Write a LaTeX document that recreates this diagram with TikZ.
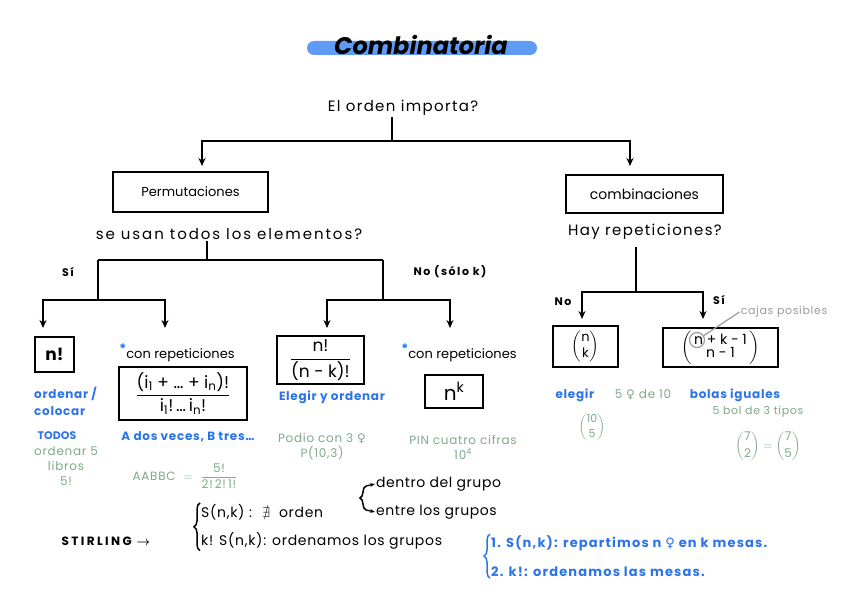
\documentclass[tikz,border=0pt]{standalone}
\usepackage{amsmath, amssymb}
\usepackage{fontspec}
\setmainfont{Poppins}
\newfontfamily\symfont{DejaVu Sans}
\usetikzlibrary{positioning, arrows.meta, decorations.pathreplacing}

\definecolor{notablue}{RGB}{45,115,235}
\definecolor{notagreen}{RGB}{125,170,135}
\definecolor{titlebar}{RGB}{95,155,245}
\definecolor{notegray}{RGB}{155,155,155}

\newcommand{\persona}{{\symfont ♀}}
\newcommand{\asterisco}{\textcolor{notablue}{\raisebox{5pt}{\bfseries *}}}

\begin{document}
\begin{tikzpicture}[x=1pt, y=-1pt,
    every node/.style={inner sep=1pt, font=\fontsize{13}{15}\selectfont},
    rama/.style={line width=1.5pt},
    box/.style={draw, line width=1.6pt},
    formula/.style={font=\fontsize{17}{20}\selectfont},
    arr/.style={-{Stealth[length=8pt, width=7pt]}, line width=1.5pt},
    pregunta/.style={font=\fontsize{15}{17}\selectfont\addfontfeature{LetterSpace=9}},
    bluenote/.style={text=notablue, font=\fontsize{12}{15}\selectfont\bfseries\addfontfeature{LetterSpace=6}},
    greennote/.style={text=notagreen, font=\fontsize{12}{15}\selectfont\addfontfeature{LetterSpace=6}},
    small/.style={font=\fontsize{11}{13}\selectfont\bfseries\addfontfeature{LetterSpace=14}},
    brace/.style={line width=1.5pt, decorate, decoration={brace, amplitude=6pt}}]
    \useasboundingbox (0,0) rectangle (848,599);

    % titulo
    \fill[titlebar, rounded corners=7pt] (307,41) rectangle (537,55);
    \node (titulo) at (421,45) {\fontsize{24}{26}\selectfont\bfseries\itshape Combinatoria};

    % primera pregunta
    \node[pregunta] (q1) at (403,108) {El orden importa?};
    \coordinate (j1) at (392,141);
    \coordinate (t-perm) at (202,166);
    \coordinate (t-comb) at (630,166);
    \draw[rama] (q1.south -| j1) -- (j1);
    \draw[arr] (j1) -| (t-perm);
    \draw[arr] (j1) -| (t-comb);

    \node[box, minimum width=155, minimum height=40] (perm) at (190.5,192) {Permutaciones};
    \node[box, minimum width=157, minimum height=38, font=\fontsize{14}{16}\selectfont] (comb) at (644.5,194) {combinaciones};

    % permutaciones
    \node[font=\fontsize{15}{17}\selectfont\addfontfeature{LetterSpace=13}] (q2) at (229,234) {se usan todos los elementos?};
    \coordinate (j2) at (207,260);
    \coordinate (j2l) at (98,260);
    \coordinate (j2r) at (383,260);
    \coordinate (j3l) at (98,300);
    \coordinate (j3r) at (383,300);
    \coordinate (t-nf) at (43,328);
    \coordinate (t-rep) at (165,328);
    \coordinate (t-var) at (327,328);
    \coordinate (t-pow) at (450,328);
    \draw[rama] (q2.south -| j2) -- (j2);
    \draw[rama] (j2l) -- (j2r);
    \draw[rama] (j2l) -- (j3l);
    \draw[rama] (j2r) -- (j3r);
    \draw[arr] (j3l) -| (t-nf);
    \draw[arr] (j3l) -| (t-rep);
    \draw[arr] (j3r) -| (t-var);
    \draw[arr] (j3r) -| (t-pow);
    \node[small] (si1) at (68,272) {Sí};
    \node[small] (no1) at (450,272) {No (sólo k)};

    \node[box, minimum width=39, minimum height=35, formula] (nfact) at (54.5,354.5) {\bfseries n!};
    \node (rep1) at (177,353) {\asterisco con repeticiones};
    \node[box, minimum width=128, minimum height=53, formula] (mrep) at (183,393.5)
        {$\dfrac{\text{(i\textsubscript{1} + \dots\ + i\textsubscript{n})!}}{\text{i\textsubscript{1}!\,\dots\,i\textsubscript{n}!}}$};
    \node[box, minimum width=87, minimum height=48, formula] (var) at (320.5,360)
        {$\dfrac{\text{n!}}{\text{(n - k)!}}$};
    \node (rep2) at (459,353) {\asterisco con repeticiones};
    \node[box, minimum width=58, minimum height=33, font=\fontsize{20}{22}\selectfont] (pow) at (454,391.5) {n\textsuperscript{k}};

    \node[bluenote, align=left, anchor=north west] (ordenar) at (33,386) {ordenar /\\[2pt]colocar};
    \node[bluenote, font=\fontsize{11}{13}\selectfont\bfseries] (todos) at (57,436) {TODOS};
    \node[greennote, align=center] (libros) at (66,466) {ordenar 5\\libros\\5!};
    \node[bluenote] (dosveces) at (188,437) {A dos veces, B tres\dots};
    \node[greennote] (aabbc) at (185,476) {AABBC \ $=$ \ $\dfrac{\text{5!}}{\text{2!\,2!\,1!}}$};
    \node[bluenote] (elegir1) at (332,397) {Elegir y ordenar};
    \node[greennote, align=center] (podio) at (322,447) {Podio con 3 \persona\\P(10,3)};
    \node[greennote, align=center] (pin) at (463,447) {PIN cuatro cifras\\10\textsuperscript{4}};

    % combinaciones
    \node[pregunta] (q3) at (645,232) {Hay repeticiones?};
    \coordinate (j4) at (636,292);
    \coordinate (t-bin) at (582,319);
    \coordinate (t-mult) at (703,319);
    \draw[rama, shorten <=6pt] (q3.south -| j4) -- (j4);
    \draw[arr] (j4) -| (t-bin);
    \draw[arr] (j4) -| (t-mult);
    \node[small] (no2) at (563,302) {No};
    \node[small] (si2) at (719,300) {Sí};

    \node[box, minimum width=65, minimum height=41, font=\fontsize{13}{15}\selectfont] (bin) at (585.5,346.5)
        {$\dbinom{\text{n}}{\text{k}}$};
    \node[box, minimum width=115, minimum height=39, font=\fontsize{14}{16}\selectfont] (mult) at (720.5,347.5)
        {$\left(\begin{array}{@{\,}c@{\,}}\text{n + k - 1}\\[-3pt]\text{n - 1}\end{array}\right)$};
    \node[circle, draw=notegray, line width=1.2pt, minimum size=15pt, inner sep=0pt] (marca) at (697,340) {};
    \node[text=notegray, font=\fontsize{11}{13}\selectfont\addfontfeature{LetterSpace=6}] (cajas) at (784,312) {cajas posibles};
    \draw[notegray, line width=1.2pt] (marca) -- (cajas.west);

    \node[bluenote] (elegir2) at (575,395) {elegir};
    \node[greennote] (cinco) at (643,395) {5 \persona\ de 10};
    \node[greennote, font=\fontsize{11}{13}\selectfont] (diezcinco) at (592,427) {$\dbinom{\text{10}}{\text{5}}$};
    \node[bluenote] (bolas) at (735,395) {bolas iguales};
    \node[greennote, font=\fontsize{11}{13}\selectfont\addfontfeature{LetterSpace=6}] (tipos) at (758,412) {5 bol de 3 tipos};
    \node[greennote, font=\fontsize{12}{14}\selectfont] (siete) at (768,446) {$\dbinom{\text{7}}{\text{2}} = \dbinom{\text{7}}{\text{5}}$};

    % Stirling
    \node[font=\fontsize{12}{14}\selectfont\bfseries\addfontfeature{LetterSpace=20}] (stirling) at (106,541) {STIRLING $\boldsymbol{\rightarrow}$};
    \node[anchor=west, font=\fontsize{14}{16}\selectfont\addfontfeature{LetterSpace=5}] (s1) at (200,512) {S(n,k) : \ $\nexists$ \ orden};
    \node[anchor=west, font=\fontsize{14}{16}\selectfont\addfontfeature{LetterSpace=5}] (s2) at (200,541) {k! S(n,k): ordenamos los grupos};
    \draw[brace] (s2.south west) -- (s1.north west);
    \node[anchor=west, font=\fontsize{14}{16}\selectfont\addfontfeature{LetterSpace=4}] (d1) at (375,484) {dentro del grupo};
    \node[anchor=west, font=\fontsize{14}{16}\selectfont\addfontfeature{LetterSpace=4}] (d2) at (375,512) {entre los grupos};
    \coordinate (b2top) at (366,486);
    \coordinate (b2bot) at (366,510);
    \draw[brace] (b2bot) -- (b2top);
    \draw[-{Stealth[length=5pt]}, line width=1.3pt] (b2top) -- (d1.west);
    \draw[-{Stealth[length=5pt]}, line width=1.3pt] (b2bot) -- (d2.west);

    \node[anchor=west, text=notablue, font=\fontsize{13}{15}\selectfont\bfseries\addfontfeature{LetterSpace=9}] (m1) at (490,543)
        {1. S(n,k): repartimos n \persona\ en k mesas.};
    \node[anchor=west, text=notablue, font=\fontsize{13}{15}\selectfont\bfseries\addfontfeature{LetterSpace=9}] (m2) at (490,572)
        {2. k!: ordenamos las mesas.};
    \draw[brace, notablue] (m2.south west) -- (m1.north west);
\end{tikzpicture}
\end{document}
